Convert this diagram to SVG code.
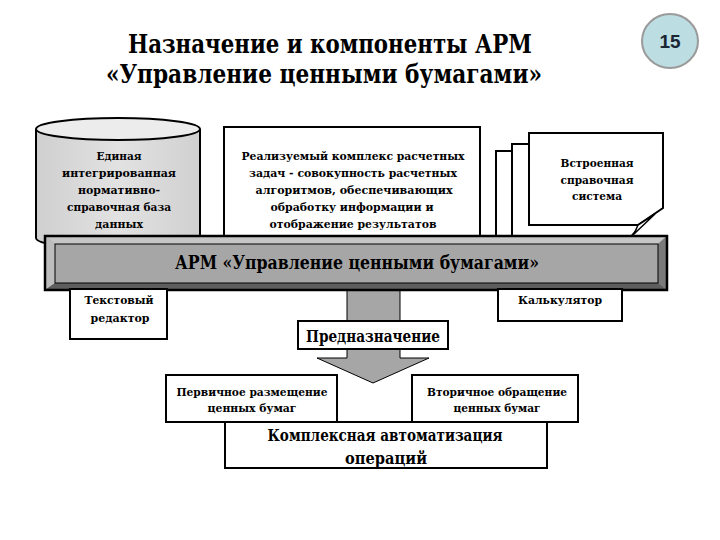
<svg xmlns="http://www.w3.org/2000/svg" width="720" height="540" viewBox="0 0 720 540">
<defs>
<linearGradient id="cylBody" x1="0" y1="0" x2="1" y2="0">
<stop offset="0" stop-color="#cfcfcf"/>
<stop offset="0.5" stop-color="#e2e2e2"/>
<stop offset="1" stop-color="#d0d0d0"/>
</linearGradient>
<style>
.big{font-weight:bold;fill:#000;text-anchor:middle}
.s{font-weight:bold;font-size:11px;fill:#000;text-anchor:middle}
.box{fill:#fff;stroke:#000;stroke-width:2}
.pg{fill:#fff;stroke:#000;stroke-width:2;stroke-linejoin:miter}
</style>
</defs>
<rect width="720" height="540" fill="#fff"/>

<g id="title" font-family="DejaVu Serif">
<text class="big" x="330" y="53" font-size="26" textLength="404" lengthAdjust="spacingAndGlyphs">Назначение и компоненты АРМ</text>
<text class="big" x="324" y="83" font-size="26" textLength="436" lengthAdjust="spacingAndGlyphs">«Управление ценными бумагами»</text>
</g>

<g id="page-number">
<ellipse cx="670" cy="41" rx="28" ry="27" fill="#bcdde2" stroke="#9a9a9a" stroke-width="2"/>
<text x="670" y="48" font-family="Liberation Sans, Arial, sans-serif" font-weight="bold" font-size="19" fill="#1b2633" text-anchor="middle">15</text>
</g>

<g id="database" font-family="DejaVu Serif">
<path d="M36,129 V238 A82,11 0 0 0 200,238 V129" fill="url(#cylBody)" stroke="#000" stroke-width="2"/>
<ellipse cx="118" cy="129" rx="82" ry="11" fill="#ececec" stroke="#000" stroke-width="2"/>
<text class="s" x="119" y="160" textLength="45" lengthAdjust="spacingAndGlyphs">Единая</text>
<text class="s" x="119" y="177" textLength="114" lengthAdjust="spacingAndGlyphs">интегрированная</text>
<text class="s" x="119" y="194" textLength="82" lengthAdjust="spacingAndGlyphs">нормативно-</text>
<text class="s" x="119" y="211" textLength="104" lengthAdjust="spacingAndGlyphs">справочная база</text>
<text class="s" x="119" y="228" textLength="48" lengthAdjust="spacingAndGlyphs">данных</text>
</g>

<g id="tasks" font-family="DejaVu Serif">
<rect class="box" x="224" y="127" width="256" height="115"/>
<text class="s" x="353" y="160" textLength="223" lengthAdjust="spacingAndGlyphs">Реализуемый комплекс расчетных</text>
<text class="s" x="353" y="177" textLength="208" lengthAdjust="spacingAndGlyphs">задач - совокупность расчетных</text>
<text class="s" x="354" y="194" textLength="197" lengthAdjust="spacingAndGlyphs">алгоритмов, обеспечивающих</text>
<text class="s" x="352" y="211" textLength="163" lengthAdjust="spacingAndGlyphs">обработку информации и</text>
<text class="s" x="353" y="228" textLength="167" lengthAdjust="spacingAndGlyphs">отображение результатов</text>
</g>

<g id="help-system" font-family="DejaVu Serif">
<path class="pg" d="M496,151 H630 V226 L618,240 H496 Z"/>
<path class="pg" d="M512,144 H647 V218 L630,238 H512 Z"/>
<path class="pg" d="M529,133 H663 V208 L638,225 H529 Z"/>
<path d="M638,225 L634,234 L655,214 Z" fill="#fff" stroke="#000" stroke-width="1.5"/>
<text class="s" x="597" y="167" textLength="73" lengthAdjust="spacingAndGlyphs">Встроенная</text>
<text class="s" x="597" y="184" textLength="73" lengthAdjust="spacingAndGlyphs">справочная</text>
<text class="s" x="597" y="200" textLength="50" lengthAdjust="spacingAndGlyphs">система</text>
</g>

<g id="connectors">
<path d="M347,288 H400 V358 H429 L373,383 L317,358 H347 Z" fill="#a6a6a6" stroke="#000" stroke-width="1"/>
</g>

<g id="arm-bar" font-family="DejaVu Serif">
<rect x="45" y="236" width="622" height="54" fill="#9a9a9a"/>
<polygon points="45,236 667,236 658,244 55,244" fill="#c6c6c6"/>
<polygon points="45,236 55,244 55,283 45,290" fill="#bdbdbd"/>
<polygon points="667,236 667,290 658,283 658,244" fill="#7a7a7a"/>
<polygon points="45,290 55,283 658,283 667,290" fill="#5e5e5e"/>
<rect x="55" y="244" width="603" height="39" fill="#a6a6a6" stroke="#000" stroke-width="1"/>
<rect x="45" y="236" width="622" height="54" fill="none" stroke="#000" stroke-width="2.5"/>
<text class="big" x="357" y="269" font-size="18" textLength="364" lengthAdjust="spacingAndGlyphs">АРМ «Управление ценными бумагами»</text>
</g>

<g id="text-editor" font-family="DejaVu Serif">
<rect class="box" x="70" y="289" width="97" height="50"/>
<text class="s" x="119" y="304" textLength="69" lengthAdjust="spacingAndGlyphs">Текстовый</text>
<text class="s" x="120" y="322" textLength="59" lengthAdjust="spacingAndGlyphs">редактор</text>
</g>

<g id="calculator" font-family="DejaVu Serif">
<rect class="box" x="498" y="289" width="124" height="32"/>
<text class="s" x="560" y="304" textLength="84" lengthAdjust="spacingAndGlyphs">Калькулятор</text>
</g>

<g id="purpose" font-family="DejaVu Serif">
<rect class="box" x="298" y="321" width="150" height="28"/>
<text class="big" x="373" y="342" font-size="16" textLength="134" lengthAdjust="spacingAndGlyphs">Предназначение</text>
</g>

<g id="primary" font-family="DejaVu Serif">
<rect class="box" x="166" y="375" width="171" height="47"/>
<text class="s" x="252" y="396" textLength="151" lengthAdjust="spacingAndGlyphs">Первичное размещение</text>
<text class="s" x="252" y="412" textLength="89" lengthAdjust="spacingAndGlyphs">ценных бумаг</text>
</g>

<g id="secondary" font-family="DejaVu Serif">
<rect class="box" x="412" y="375" width="166" height="47"/>
<text class="s" x="497" y="396" textLength="140" lengthAdjust="spacingAndGlyphs">Вторичное обращение</text>
<text class="s" x="497" y="412" textLength="87" lengthAdjust="spacingAndGlyphs">ценных бумаг</text>
</g>

<g id="automation" font-family="DejaVu Serif">
<rect class="box" x="225" y="422" width="322" height="46"/>
<text class="big" x="385" y="441" font-size="16" textLength="235" lengthAdjust="spacingAndGlyphs">Комплексная автоматизация</text>
<text class="big" x="386" y="464" font-size="16" textLength="82" lengthAdjust="spacingAndGlyphs">операций</text>
</g>
</svg>
